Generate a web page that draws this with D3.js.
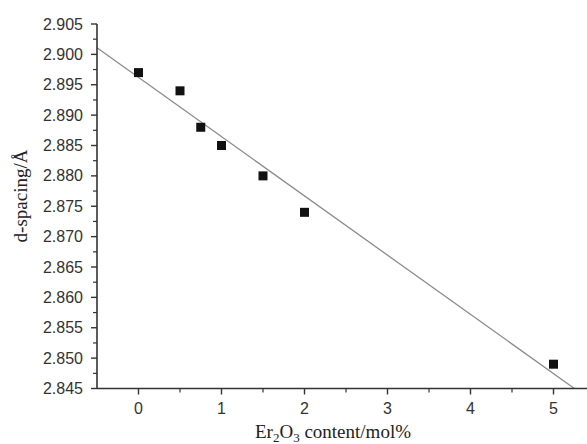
<!DOCTYPE html>
<html>
<head>
<meta charset="utf-8">
<script src="https://cdn.jsdelivr.net/npm/d3@7"></script>
<style>
  body { margin: 0; background: #fff; }
  svg { display: block; }
</style>
</head>
<body>
<div id="chart"></div>
<script>
(function () {

  // Data
  const contents = [0, 0.5, 0.75, 1, 1.5, 2, 5]
  const spacings = [2.897, 2.894, 2.888, 2.885, 2.880, 2.874, 2.849]
  const xTicks = [0, 1, 2, 3, 4, 5]
  const yTicks = [2.845, 2.850, 2.855, 2.860, 2.865, 2.870, 2.875, 2.880, 2.885, 2.890, 2.895, 2.900, 2.905]
  // linear fit line as drawn
  const fitSlope = -0.00975
  const fitIntercept = 2.8962

  const width = 587
  const height = 444

  const svg = d3.select("#chart").append("svg")
      .attr("width", width)
      .attr("height", height)

  const x = d3.scaleLinear()
    .domain([-0.5, 5.5])
    .range([97, 595])

  const y = d3.scaleLinear()
    .domain([2.845, 2.905])
    .range([388.5, 24])

  // fit line, clipped at the bottom of the axis
  const xEnd = (2.845 - fitIntercept) / fitSlope
  svg.append("line")
    .attr("x1", x(-0.5))
    .attr("y1", y(fitIntercept + fitSlope * -0.5))
    .attr("x2", x(xEnd))
    .attr("y2", y(2.845))
    .attr("stroke", "#8c8c8c")
    .attr("stroke-width", 1.3)

  // x axis
  const xAxis = svg.append("g")
    .attr("transform", "translate(0," + y(2.845) + ")")
  xAxis.append("line")
    .attr("x1", x(-0.5)).attr("x2", width)
    .attr("stroke", "#333").attr("stroke-width", 1.6)
  xAxis.selectAll(".major")
    .data(xTicks)
    .join("line")
    .attr("x1", d => x(d)).attr("x2", d => x(d))
    .attr("y1", 0).attr("y2", 6)
    .attr("stroke", "#333").attr("stroke-width", 1.4)
  xAxis.selectAll(".minor")
    .data(xTicks.map(d => d + 0.5))
    .join("line")
    .attr("x1", d => x(d)).attr("x2", d => x(d))
    .attr("y1", 0).attr("y2", 4)
    .attr("stroke", "#333").attr("stroke-width", 1.2)
  xAxis.selectAll("text")
    .data(xTicks)
    .join("text")
    .attr("x", d => x(d))
    .attr("y", 25)
    .attr("text-anchor", "middle")
    .attr("font-family", "Liberation Sans, Arial, sans-serif")
    .attr("font-size", 16)
    .attr("fill", "#333")
    .text(d => d)

  // y axis
  const yAxis = svg.append("g")
    .attr("transform", "translate(" + x(-0.5) + ",0)")
  yAxis.append("line")
    .attr("y1", y(2.845)).attr("y2", y(2.905))
    .attr("stroke", "#333").attr("stroke-width", 1.6)
  yAxis.selectAll(".major")
    .data(yTicks)
    .join("line")
    .attr("x1", -6).attr("x2", 0)
    .attr("y1", d => y(d)).attr("y2", d => y(d))
    .attr("stroke", "#333").attr("stroke-width", 1.4)
  yAxis.selectAll(".minor")
    .data(yTicks.slice(0, -1).map(d => d + 0.0025))
    .join("line")
    .attr("x1", -4).attr("x2", 0)
    .attr("y1", d => y(d)).attr("y2", d => y(d))
    .attr("stroke", "#333").attr("stroke-width", 1.2)
  yAxis.selectAll("text")
    .data(yTicks)
    .join("text")
    .attr("x", -14)
    .attr("y", d => y(d) + 5.5)
    .attr("text-anchor", "end")
    .attr("font-family", "Liberation Sans, Arial, sans-serif")
    .attr("font-size", 16)
    .attr("fill", "#333")
    .text(d => d3.format(".3f")(d))

  // points
  svg.selectAll(".pt")
    .data(contents.map((c, i) => ({ c: c, s: spacings[i] })))
    .join("rect")
    .attr("x", d => x(d.c) - 4.5)
    .attr("y", d => y(d.s) - 4.5)
    .attr("width", 9)
    .attr("height", 9)
    .attr("fill", "#111")

  // axis titles
  const xt = svg.append("text")
    .attr("x", 333)
    .attr("y", 438)
    .attr("text-anchor", "middle")
    .attr("font-family", "Liberation Serif, Times New Roman, serif")
    .attr("font-size", 19)
    .attr("fill", "#222")
  xt.append("tspan").text("Er")
  xt.append("tspan").attr("font-size", 13).attr("dy", 4).text("2")
  xt.append("tspan").attr("dy", -4).text("O")
  xt.append("tspan").attr("font-size", 13).attr("dy", 4).text("3")
  xt.append("tspan").attr("dy", -4).text(" content/mol%")

  svg.append("text")
    .attr("transform", "translate(27,196) rotate(-90)")
    .attr("text-anchor", "middle")
    .attr("font-family", "Liberation Serif, Times New Roman, serif")
    .attr("font-size", 19)
    .attr("fill", "#222")
    .text("d-spacing/Å")

})();
</script>
</body>
</html>
